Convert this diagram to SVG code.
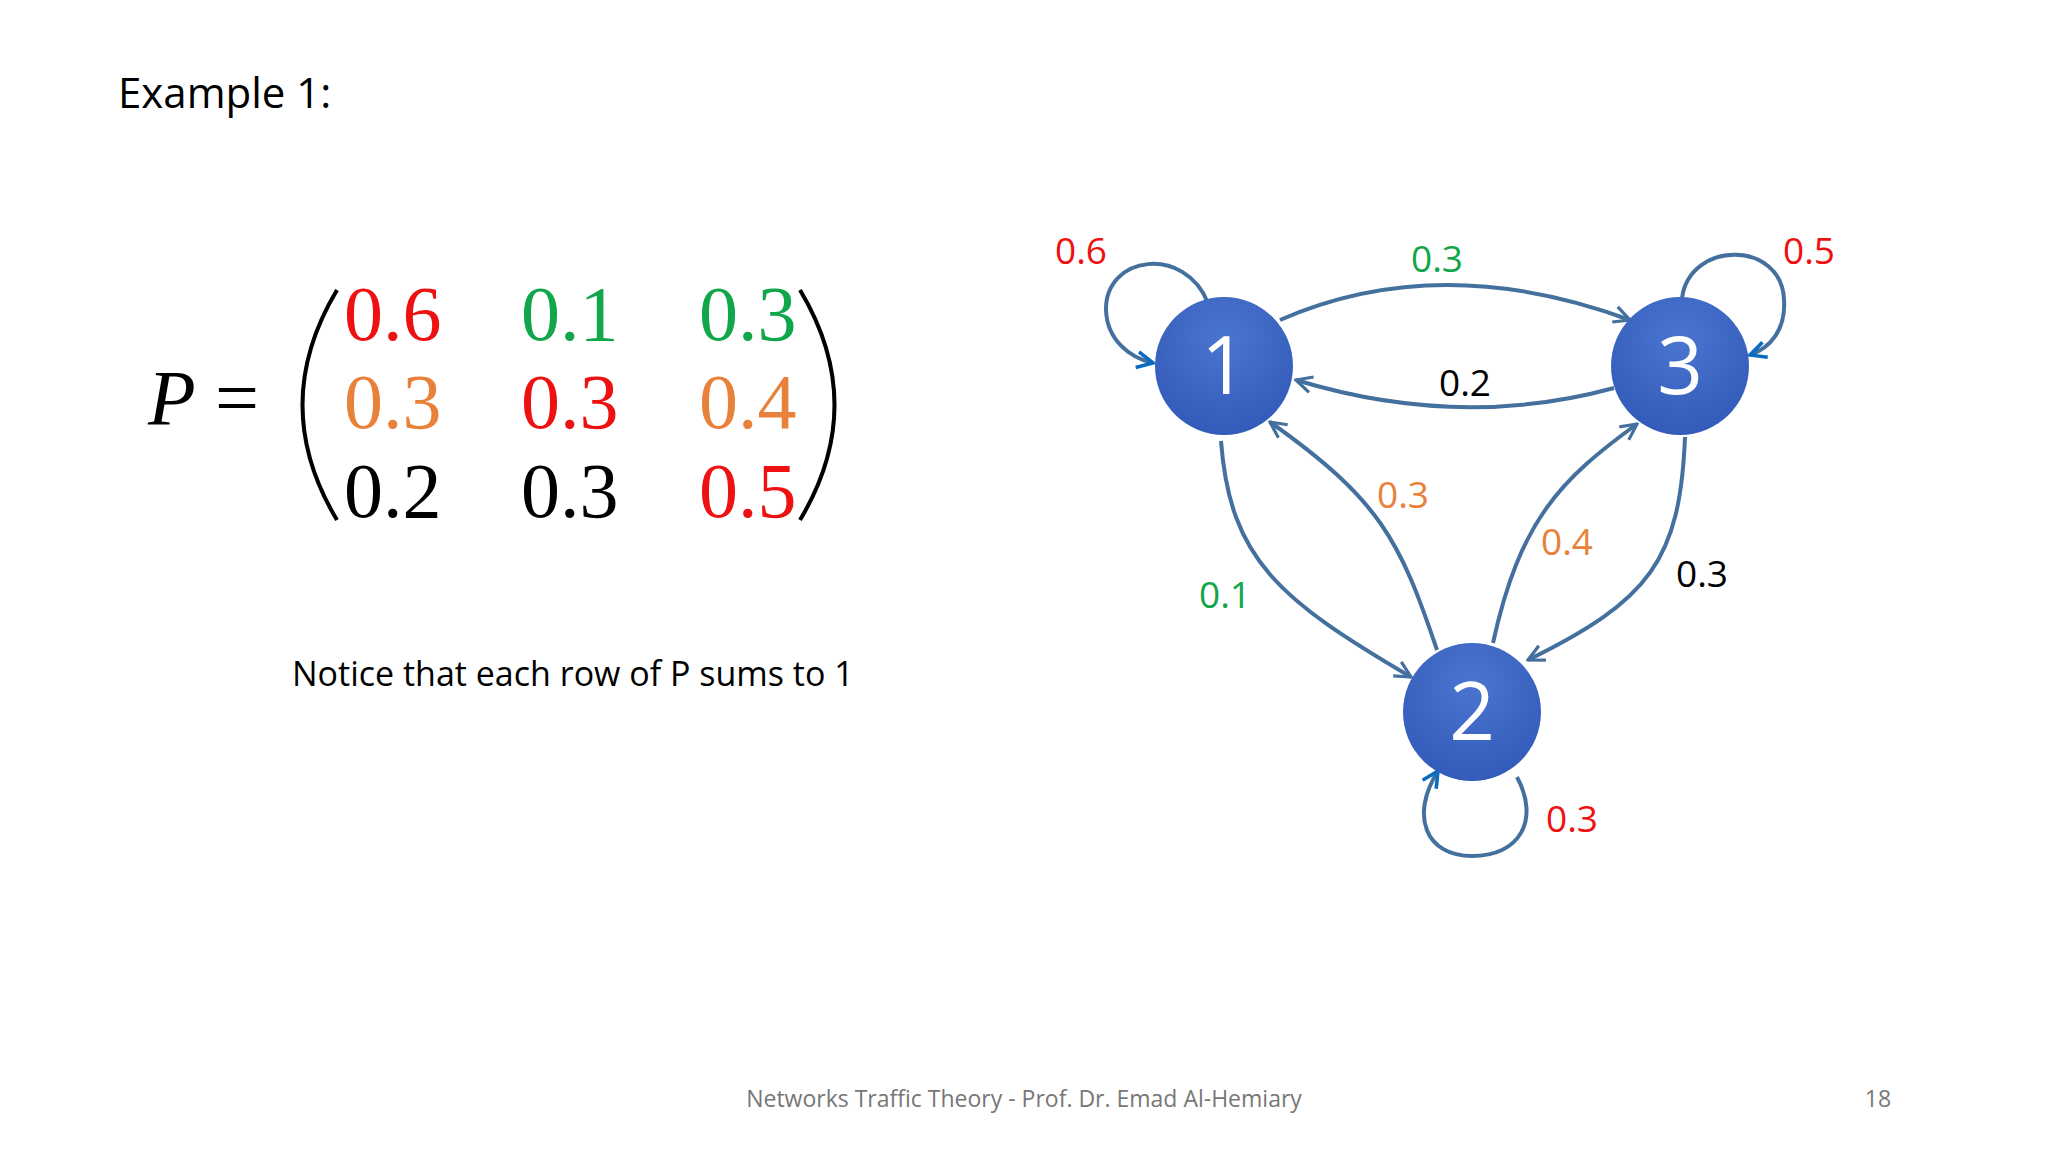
<svg xmlns="http://www.w3.org/2000/svg" width="2048" height="1152" viewBox="0 0 2048 1152">
<style>
.t{font-family:"Open Sans","Noto Sans",sans-serif}
.m{font-family:"Liberation Serif",serif;font-size:78px}
.l{font-family:"Open Sans","Noto Sans",sans-serif;font-size:37px;text-anchor:middle}
.e{fill:none;stroke:#44709e;stroke-width:4}
.n{font-family:"Open Sans","Noto Sans",sans-serif;font-size:80px;fill:#fff;text-anchor:middle}
</style>
<defs>
<radialGradient id="g" cx="0.5" cy="0.3" r="0.75"><stop offset="0" stop-color="#4a75cf"/><stop offset="1" stop-color="#3159b8"/></radialGradient>
<marker id="a" viewBox="0 0 10 10" refX="9" refY="5" markerWidth="5" markerHeight="5" orient="auto" markerUnits="strokeWidth"><path d="M1,1 L9,5 L1,9" fill="none" stroke="#44709e" stroke-width="1.6"/></marker>
<marker id="b" viewBox="0 0 10 10" refX="9" refY="5" markerWidth="5" markerHeight="5" orient="auto" markerUnits="strokeWidth"><path d="M1,1 L9,5 L1,9" fill="none" stroke="#0a6cc0" stroke-width="1.8"/></marker>
</defs>
<rect width="2048" height="1152" fill="#fff"/>
<text class="t" x="118" y="108" font-size="42">Example 1:</text>
<text class="m" x="148" y="424" font-style="italic">P</text>
<text class="m" x="215" y="424">=</text>
<path d="M337,290 Q268,405 337,520" fill="none" stroke="#000" stroke-width="4"/>
<path d="M800,290 Q869,405 800,520" fill="none" stroke="#000" stroke-width="4"/>
<g class="m">
<text x="344" y="340" fill="#ee1111">0.6</text><text x="521" y="340" fill="#11a64a">0.1</text><text x="699" y="340" fill="#11a64a">0.3</text>
<text x="344" y="428" fill="#e8823a">0.3</text><text x="521" y="428" fill="#ee1111">0.3</text><text x="699" y="428" fill="#e8823a">0.4</text>
<text x="344" y="517" fill="#000">0.2</text><text x="521" y="517" fill="#000">0.3</text><text x="699" y="517" fill="#ee1111">0.5</text>
</g>
<text class="t" x="292" y="686" font-size="34">Notice that each row of P sums to 1</text>
<g id="connectors">
<path class="e" d="M1280,320 Q1440,250 1630,320" marker-end="url(#a)"/>
<path class="e" d="M1614,388 Q1460,430 1296,380" marker-end="url(#a)"/>
<path class="e" d="M1221,441 C1230,560 1280,600 1411,677" marker-end="url(#a)"/>
<path class="e" d="M1437,650 C1400,540 1380,500 1270,422" marker-end="url(#a)"/>
<path class="e" d="M1493,643 C1520,520 1560,480 1637,424" marker-end="url(#a)"/>
<path class="e" d="M1685,437 C1680,560 1650,600 1528,660" marker-end="url(#a)"/>
<path class="e" d="M1208,303 C1185,245 1105,255 1106,310 C1107,340 1130,358 1153,363" marker-end="url(#b)"/>
<path class="e" d="M1682,298 C1690,240 1782,240 1784,300 C1786,330 1770,348 1750,355" marker-end="url(#b)"/>
<path class="e" d="M1517,777 C1540,820 1520,856 1472,856 C1425,856 1410,815 1438,771" marker-end="url(#b)"/>
<text class="l" x="1081" y="264" fill="#ee1111">0.6</text>
<text class="l" x="1437" y="272" fill="#11a64a">0.3</text>
<text class="l" x="1809" y="264" fill="#ee1111">0.5</text>
<text class="l" x="1465" y="396" fill="#000">0.2</text>
<text class="l" x="1403" y="508" fill="#e8823a">0.3</text>
<text class="l" x="1567" y="555" fill="#e8823a">0.4</text>
<text class="l" x="1702" y="587" fill="#000">0.3</text>
<text class="l" x="1225" y="608" fill="#11a64a">0.1</text>
<text class="l" x="1572" y="832" fill="#ee1111">0.3</text>
</g>
<g id="node1"><circle cx="1224" cy="366" r="69" fill="url(#g)"/><text class="n" x="1224" y="394">1</text></g>
<g id="node3"><circle cx="1680" cy="366" r="69" fill="url(#g)"/><text class="n" x="1680" y="394">3</text></g>
<g id="node2"><circle cx="1472" cy="712" r="69" fill="url(#g)"/><text class="n" x="1472" y="740">2</text></g>
<text class="t" x="1024" y="1107" font-size="23" fill="#777" text-anchor="middle">Networks Traffic Theory - Prof. Dr. Emad Al-Hemiary</text>
<text class="t" x="1878" y="1107" font-size="23" fill="#777" text-anchor="middle">18</text>
</svg>
